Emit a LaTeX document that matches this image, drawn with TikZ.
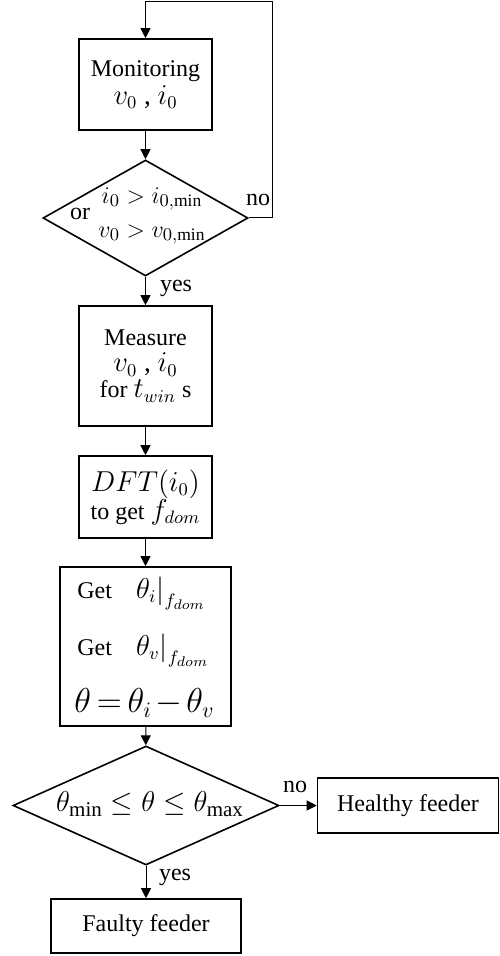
\documentclass[tikz,border=0pt]{standalone}
\usepackage{fontspec}
\setmainfont{Liberation Serif}
\usetikzlibrary{arrows.meta,shapes.geometric}
\tikzset{
  stepbox/.style={draw, line width=0.8pt, inner sep=1pt, align=center, font=\fontsize{12}{15}\selectfont},
  decision/.style={diamond, draw, line width=0.8pt, inner sep=0pt},
  arr/.style={-{Triangle[length=5pt,width=5pt]}, line width=0.5pt},
  lbl/.style={inner sep=0pt, font=\fontsize{12}{14}\selectfont}
}
\newcommand{\mbig}{\fontsize{13.5}{16}\selectfont}
\begin{document}
\begin{tikzpicture}[x=0.5pt,y=-0.5pt]
\useasboundingbox (0,0) rectangle (499,956);
% boxes
\node[stepbox, minimum width=66.5pt, minimum height=45.5pt] (mon) at (145.5,84.5)
  {Monitoring\\[-1pt] {\mbig $v_0$ , $i_0$}};
\node[decision, minimum width=102.5pt, minimum height=58pt] (dec1) at (145.5,218) {};
\node[lbl, font=\fontsize{12.5}{15}\selectfont, align=center] (cond1) at (152,216) {$i_0 > i_{0,\min}$\\[2pt] $v_0 > v_{0,\min}$};
\node[lbl] (orlbl) at (80,214) {or};
\node[stepbox, minimum width=66.5pt, minimum height=60pt] (meas) at (145.5,366)
  {Measure\\[-2pt] {\mbig $v_0$ , $i_0$}\\[-2pt] for {\mbig $t_{win}$} s};
\node[stepbox, minimum width=66.5pt, minimum height=41pt] (dft) at (145.5,497)
  {{\mbig $DFT(i_0)$}\\[-1pt] to get {\mbig $f_{dom}$}};
\node[stepbox, minimum width=85.5pt, minimum height=79.5pt] (ang) at (145.5,646.5) {};
\node[lbl, anchor=base west] (get1) at (77,598) {Get\quad{\mbig $\theta_i\big|_{f_{dom}}$}};
\node[lbl, anchor=base west] (get2) at (77,655) {Get\quad{\mbig $\theta_v\big|_{f_{dom}}$}};
\node[lbl, anchor=base west, font=\fontsize{16}{18}\selectfont] (eq) at (74,712)
  {$\thickmuskip=3mu\medmuskip=2mu \theta=\theta_i-\theta_v$};
\node[decision, minimum width=133pt, minimum height=59.5pt] (dec2) at (146,805.5) {};
\node[lbl, font=\fontsize{15}{18}\selectfont] (cond2) at (150,804) {$\theta_{\min}\le\theta\le\theta_{\max}$};
\node[stepbox, minimum width=90.5pt, minimum height=27.5pt] (healthy) at (408,805.5) {Healthy feeder};
\node[stepbox, minimum width=95pt, minimum height=27pt] (faulty) at (146,926) {Faulty feeder};
% connectors
\coordinate (loop) at (272,2);
\draw[arr] (dec1.east) -| (loop) -| (mon.north);
\draw[arr] (mon) -- (dec1);
\draw[arr] (dec1) -- (meas);
\draw[arr] (meas) -- (dft);
\draw[arr] (dft) -- (ang);
\draw[arr] (ang) -- (dec2);
\draw[arr] (dec2) -- (healthy);
\draw[arr] (dec2) -- (faulty);
% labels
\node[lbl] (no1) at (258,200) {no};
\node[lbl] (yes1) at (176,288) {yes};
\node[lbl] (no2) at (295,787) {no};
\node[lbl] (yes2) at (175,877) {yes};
\end{tikzpicture}
\end{document}
